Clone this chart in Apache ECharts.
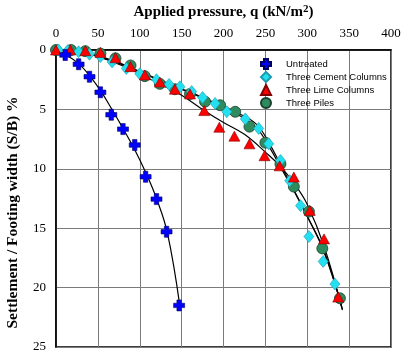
<!DOCTYPE html>
<html><head><meta charset="utf-8">
<script src="https://cdn.jsdelivr.net/npm/echarts@6/dist/echarts.min.js"></script>
<style>html,body{margin:0;padding:0;background:#fff}#c{width:405px;height:355px}</style>
</head><body><div id="c"></div>
<script>
// Measured data (q in kN/m2, S/B in %)
const untreatedQ = [11, 27, 40, 53, 66, 80, 94, 107, 120, 132, 147];
const untreatedS = [0.42, 1.2, 2.25, 3.56, 5.45, 6.66, 8.0, 10.67, 12.55, 15.3, 21.5];

const cementQ = [3, 14, 27, 40, 53, 67, 84, 100, 120, 135, 148, 162, 175, 190, 204, 226, 242, 254, 268, 279, 292, 302, 319, 333];
const cementS = [0, 0.05, 0.15, 0.35, 0.55, 1.0, 1.55, 2.0, 2.5, 2.9, 3.1, 3.5, 4.0, 4.5, 5.2, 5.8, 6.6, 7.9, 9.3, 11.0, 13.1, 15.7, 17.8, 19.7];

const limeQ = [0, 17, 35, 53, 71, 89, 106, 124, 142, 160, 177, 195, 213, 231, 249, 267, 284, 303, 320, 337];
const limeS = [0, 0, 0.06, 0.2, 0.65, 1.4, 2.1, 2.7, 3.3, 3.7, 5.1, 6.5, 7.25, 7.9, 8.9, 9.75, 10.7, 13.5, 15.9, 20.8];

const pilesQ = [0, 18, 35, 53, 71, 89, 106, 124, 142, 160, 178, 196, 214, 231, 250, 268, 284, 302, 318, 339];
const pilesS = [0, 0, 0.1, 0.3, 0.7, 1.3, 2.2, 2.85, 3.3, 3.7, 4.35, 4.65, 5.2, 6.45, 7.8, 9.6, 11.5, 13.6, 16.7, 20.9];

// Trend lines
const fitUntreatedQ = [0, 11, 27, 40, 53, 66, 80, 94, 107, 120, 133, 148];
const fitUntreatedS = [0, 0.35, 1.15, 2.15, 3.4, 4.9, 6.6, 8.4, 10.3, 12.5, 15.4, 21.6];
const fitCementQ = [0, 20, 40, 60, 80, 100, 120, 140, 160, 180, 200, 220, 240, 255, 270, 285, 300, 320, 342];
const fitCementS = [0, 0.05, 0.3, 0.7, 1.2, 1.8, 2.4, 3.0, 3.55, 4.15, 4.75, 5.4, 6.3, 7.9, 9.9, 11.9, 14.0, 17.0, 21.8];
const fitPilesQ = [0, 20, 40, 60, 80, 100, 120, 140, 160, 180, 200, 220, 240, 255, 270, 285, 300, 320, 341];
const fitPilesS = [0, 0.05, 0.3, 0.75, 1.25, 1.85, 2.45, 3.05, 3.6, 4.2, 4.85, 5.55, 6.6, 8.2, 10.1, 12.0, 14.0, 16.9, 21.6];
const fitLimeQ = [0, 20, 40, 60, 80, 100, 125, 150, 175, 200, 225, 250, 268, 285, 300, 320, 342];
const fitLimeS = [0, 0.05, 0.35, 0.8, 1.35, 2.0, 2.9, 3.8, 5.0, 6.1, 7.1, 8.6, 9.8, 11.3, 13.0, 16.5, 21.9];

const xTicks = [0, 50, 100, 150, 200, 250, 300, 350, 400];
const yTicks = [0, 5, 10, 15, 20, 25];

const pair = (a, b) => a.map((v, i) => [v, b[i]]);
const plus = 'path://M3,0 H7 V3 H10 V7 H7 V10 H3 V7 H0 V3 H3 Z';

const chart = echarts.init(document.getElementById('c'));
const serif = '"Liberation Serif","DejaVu Serif",serif';
const fitStyle = { color: '#000', width: 1.2 };

chart.setOption({
  animation: false,
  backgroundColor: '#fff',
  grid: { left: 56, right: 14, top: 50, bottom: 8, containLabel: false, outerBoundsMode: 'none',
    show: true, borderColor: '#000', borderWidth: 1.5, backgroundColor: 'transparent' },
  legend: {
    orient: 'vertical', left: 260, top: 58, padding: 0, itemGap: 1, itemWidth: 10, itemHeight: 10,
    data: ['Untreated', 'Three Cement Columns', 'Three Lime Columns', 'Three Piles'],
    textStyle: { fontFamily: '"Liberation Sans",Arial,sans-serif', fontSize: 9.5, lineHeight: 11, color: '#000', padding: [0, 0, 0, 10] }
  },
  xAxis: {
    type: 'value', position: 'top', min: xTicks[0], max: xTicks[xTicks.length - 1], interval: 50,
    name: 'Applied pressure, q (kN/m{sup|2})', nameLocation: 'middle', nameGap: 29, nameMoveOverlap: false,
    nameTextStyle: { fontFamily: serif, fontWeight: 'bold', fontSize: 15, color: '#000',
      rich: { sup: { fontFamily: serif, fontWeight: 'bold', fontSize: 11, verticalAlign: 'top', padding: [0, 0, 6, 0], color: '#000' } } },
    axisLine: { show: true, lineStyle: { color: '#000', width: 1.5 } },
    axisTick: { show: false },
    axisLabel: { fontFamily: serif, fontSize: 13, color: '#000', margin: 10 },
    splitLine: { show: true, lineStyle: { color: '#7a7a7a', width: 1 } }
  },
  yAxis: {
    type: 'value', inverse: true, min: yTicks[0], max: yTicks[yTicks.length - 1], interval: 5,
    name: 'Settlement / Footing width (S/B) %', nameLocation: 'middle', nameGap: 35, nameRotate: 90, nameMoveOverlap: false,
    nameTextStyle: { fontFamily: serif, fontWeight: 'bold', fontSize: 15.5, color: '#000', padding: [0, 28, 0, 0] },
    axisLine: { show: true, lineStyle: { color: '#000', width: 1.5 } },
    axisTick: { show: false },
    axisLabel: { fontFamily: serif, fontSize: 13, color: '#000', margin: 10 },
    splitLine: { show: true, lineStyle: { color: '#7a7a7a', width: 1 } }
  },
  series: [
    { name: 'fitU', type: 'line', smooth: 0.4, showSymbol: false, data: pair(fitUntreatedQ, fitUntreatedS), lineStyle: fitStyle, z: 2, silent: true },
    { name: 'fitC', type: 'line', smooth: 0.4, showSymbol: false, data: pair(fitCementQ, fitCementS), lineStyle: fitStyle, z: 2, silent: true },
    { name: 'fitP', type: 'line', smooth: 0.4, showSymbol: false, data: pair(fitPilesQ, fitPilesS), lineStyle: fitStyle, z: 2, silent: true },
    { name: 'fitL', type: 'line', smooth: 0.4, showSymbol: false, data: pair(fitLimeQ, fitLimeS), lineStyle: fitStyle, z: 2, silent: true },
    { name: 'Three Piles', type: 'scatter', symbol: 'circle', symbolSize: 11, data: pair(pilesQ, pilesS),
      itemStyle: { color: '#2e8b5e', borderColor: '#1a4030', borderWidth: 0.8, opacity: 1 }, z: 3 },
    { name: 'Three Cement Columns', type: 'scatter', symbol: 'diamond', symbolSize: [10, 12], data: pair(cementQ, cementS),
      itemStyle: { color: '#22e0f0', borderColor: '#1a9bb0', borderWidth: 0.6, opacity: 1 }, z: 4 },
    { name: 'Three Lime Columns', type: 'scatter', symbol: 'triangle', symbolSize: [11, 10], data: pair(limeQ, limeS),
      itemStyle: { color: '#ff0000', borderColor: '#800000', borderWidth: 0.6, opacity: 1 }, z: 5 },
    { name: 'Untreated', type: 'scatter', symbol: plus, symbolSize: 11, data: pair(untreatedQ, untreatedS),
      itemStyle: { color: '#0000ff', borderColor: '#000060', borderWidth: 0.6, opacity: 1 }, z: 6 }
  ]
});
</script></body></html>
